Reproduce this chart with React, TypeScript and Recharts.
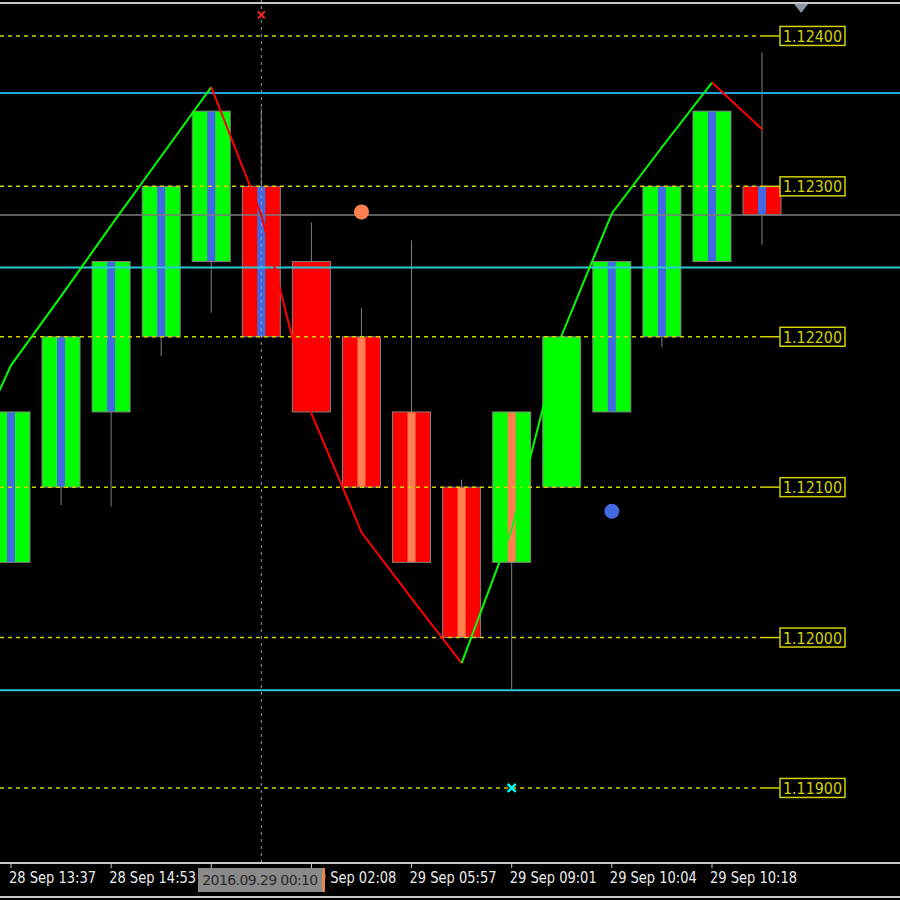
import {
  ComposedChart,
  Bar,
  Line,
  XAxis,
  YAxis,
  ReferenceLine,
  ReferenceDot,
} from "recharts";

// renko bricks, one per slot 0..15
const opens = [1.1205, 1.121, 1.1215, 1.122, 1.1225, 1.123, 1.1225, 1.122, 1.1215, 1.121, 1.1205, 1.121, 1.1215, 1.122, 1.1225, 1.123];
const closes = [1.1215, 1.122, 1.1225, 1.123, 1.1235, 1.122, 1.1215, 1.121, 1.1205, 1.12, 1.1215, 1.122, 1.1225, 1.123, 1.1235, 1.12281];
const highs = [1.1215, 1.122, 1.1225, 1.123, 1.1235, 1.12352, 1.12276, 1.12219, 1.12264, 1.12105, 1.1215, 1.122, 1.1225, 1.123, 1.1235, 1.12389];
const lows = [1.1205, 1.12088, 1.12087, 1.12187, 1.12216, 1.122, 1.1215, 1.121, 1.1205, 1.12, 1.11965, 1.121, 1.1215, 1.12193, 1.1225, 1.12261];
const stripes = ["blue", "blue", "blue", "blue", "blue", "blue", "", "salmon", "salmon", "salmon", "salmon", "", "blue", "blue", "blue", "blue"];

// zigzag legs, slots -1..15
const slots = [-1, 0, 1, 2, 3, 4, 5, 6, 7, 8, 9, 10, 11, 12, 13, 14, 15];
const upLeg1 = [1.12108, 1.12181, 1.12227, 1.12274, 1.1232, 1.12366, null, null, null, null, null, null, null, null, null, null, null];
const downLeg1 = [null, null, null, null, null, 1.12366, 1.12281, 1.12149, 1.1207, 1.12026, 1.11983, null, null, null, null, null, null];
const upLeg2 = [null, null, null, null, null, null, null, null, null, null, 1.11983, 1.12072, 1.12201, 1.12282, 1.12326, 1.12369, null];
const downLeg2 = [null, null, null, null, null, null, null, null, null, null, null, null, null, null, null, 1.12369, 1.12338];

const levels = [1.124, 1.123, 1.122, 1.121, 1.12, 1.119];
const cyanLines = [1.12362, 1.12246, 1.11965];
const bidPrice = 1.12281;

const tickSlots = [0, 2, 4, 6, 8, 10, 12, 14];
const tickLabels = ["28 Sep 13:37", "28 Sep 14:53", "", "29 Sep 02:08", "29 Sep 05:57", "29 Sep 09:01", "29 Sep 10:04", "29 Sep 10:18"];
const crossSlot = 5;
const crossLabel = "2016.09.29 00:10";

const rows = slots.map((s, k) => {
  const row: any = {
    i: s,
    up1: upLeg1[k],
    down1: downLeg1[k],
    up2: upLeg2[k],
    down2: downLeg2[k],
  };
  if (s >= 0) {
    row.open = opens[s];
    row.close = closes[s];
    row.stripe = stripes[s];
    row.range = [lows[s], highs[s]];
  }
  return row;
});

const GREEN = "#00ff00";
const RED = "#ff0000";
const YELLOW = "#d2d200";

const Candle = (props: any) => {
  const { x, y, width, height, payload } = props;
  if (payload.open == null) return null;
  const [lo, hi] = payload.range;
  const top = Math.min(y, y + height);
  const ppu = Math.abs(height) / (hi - lo);
  const yOf = (v: number) => top + (hi - v) * ppu;
  const cx = x + width / 2;
  const bTop = yOf(Math.max(payload.open, payload.close));
  const bBot = yOf(Math.min(payload.open, payload.close));
  const up = payload.close > payload.open;
  const stripeColor = payload.stripe === "blue" ? "#4169e1" : payload.stripe === "salmon" ? "#ff7f50" : null;
  return (
    <g>
      <line x1={cx} x2={cx} y1={top} y2={top + Math.abs(height)} stroke="#808080" strokeWidth={1} />
      <rect x={x} y={bTop} width={width} height={bBot - bTop} fill={up ? GREEN : RED} stroke="#808080" strokeWidth={1} />
      {stripeColor && <rect x={cx - 4} y={bTop + 0.5} width={8} height={bBot - bTop - 1} fill={stripeColor} />}
    </g>
  );
};

const LevelShape = (props: any) => {
  const { x1, y1, x2, value } = props;
  const boxL = x2 - 120;
  const text = value.toFixed(5);
  return (
    <g>
      <line x1={x1} x2={boxL - 20} y1={y1} y2={y1} stroke={YELLOW} strokeWidth={1.5} strokeDasharray="4 4" />
      <line x1={boxL - 20} x2={boxL} y1={y1} y2={y1} stroke={YELLOW} strokeWidth={1.5} />
      <rect x={boxL} y={y1 - 9.5} width={65} height={19} fill="#000" stroke={YELLOW} strokeWidth={1.5} />
      <text x={boxL + 3} y={y1 + 6} fill={YELLOW} fontSize={16} fontFamily="DejaVu Sans" textLength={59} lengthAdjust="spacingAndGlyphs">
        {text}
      </text>
    </g>
  );
};

const TimeTick = (props: any) => {
  const { x, y, payload } = props;
  const label = tickLabels[tickSlots.indexOf(payload.value)] ?? "";
  if (!label) return null;
  return (
    <text x={x - 2} y={y + 13} fill="#ececec" fontSize={15.5} fontFamily="DejaVu Sans" textLength={label.length * 7.25} lengthAdjust="spacingAndGlyphs">
      {label}
    </text>
  );
};

const Cross = (color: string, w: number, r: number) => (p: any) => (
  <g stroke={color} strokeWidth={w}>
    <line x1={p.cx - r} y1={p.cy - r} x2={p.cx + r} y2={p.cy + r} />
    <line x1={p.cx - r} y1={p.cy + r} x2={p.cx + r} y2={p.cy - r} />
  </g>
);

const Dot = (color: string) => (p: any) => <circle cx={p.cx} cy={p.cy} r={7.5} fill={color} />;

const ShiftMark = (p: any) => (
  <polygon points={`${p.cx - 7},${p.cy - 4} ${p.cx + 7},${p.cy - 4} ${p.cx},${p.cy + 5}`} fill="#8a96a8" />
);

export default function App() {
  return (
    <div style={{ position: "relative", width: 900, height: 900, background: "#000", overflow: "hidden" }}>
      <style>{"body{margin:0;background:#000}"}</style>
      <ComposedChart width={900} height={900} data={rows} margin={{ top: 0, right: 0, bottom: 0, left: 0 }}>
        <XAxis
          dataKey="i"
          type="number"
          domain={[-0.2197, 17.755]}
          allowDataOverflow
          ticks={tickSlots}
          interval={0}
          height={37}
          tickSize={5}
          axisLine={{ stroke: "#c8c8c8", strokeWidth: 2 }}
          tickLine={{ stroke: "#c8c8c8" }}
          tick={<TimeTick />}
        />
        <YAxis hide type="number" domain={[1.118501, 1.124239]} allowDataOverflow />

        {levels.map((v) => (
          <ReferenceLine key={v} y={v} stroke={YELLOW} shape={(p: any) => <LevelShape {...p} value={v} />} />
        ))}
        <ReferenceLine y={bidPrice} stroke="#7a7a7a" strokeWidth={1.5} />
        <ReferenceLine x={crossSlot} stroke="#9a9a9a" strokeDasharray="3 4" />

        <Bar dataKey="range" barSize={38} shape={<Candle />} isAnimationActive={false} />

        {cyanLines.map((v, k) => (
          <ReferenceLine key={v} y={v} stroke={k === 0 ? "#22a4d4" : "#2cc8d4"} strokeWidth={2} />
        ))}

        <Line dataKey="up1" stroke={GREEN} strokeWidth={2} dot={false} activeDot={false} isAnimationActive={false} />
        <Line dataKey="down1" stroke={RED} strokeWidth={2} dot={false} activeDot={false} isAnimationActive={false} />
        <Line dataKey="up2" stroke={GREEN} strokeWidth={2} dot={false} activeDot={false} isAnimationActive={false} />
        <Line dataKey="down2" stroke={RED} strokeWidth={2} dot={false} activeDot={false} isAnimationActive={false} />

        <ReferenceDot x={7} y={1.12283} r={7} shape={Dot("#ff7f50")} />
        <ReferenceDot x={12} y={1.12084} r={7} shape={Dot("#4169e1")} />
        <ReferenceDot x={10} y={1.119} r={5} shape={Cross("#00ffff", 2.5, 4)} />
        <ReferenceDot x={crossSlot} y={1.12414} r={5} shape={Cross("#ff2020", 2, 3.5)} />
        <ReferenceDot x={15.78} y={1.124186} r={5} shape={ShiftMark} />
      </ComposedChart>
      <div style={{ position: "absolute", left: 0, top: 2, width: 900, height: 2, background: "#c8c8c8" }} />
      <div style={{ position: "absolute", left: 0, top: 896, width: 900, height: 2, background: "#c8c8c8" }} />
      <div
        style={{
          position: "absolute",
          left: 198,
          top: 868,
          width: 124,
          height: 24,
          background: "#8a8a8a",
          borderRight: "3px solid #e08a50",
          color: "#2a2a2a",
          fontFamily: "DejaVu Sans",
          fontSize: 14,
          lineHeight: "24px",
          textAlign: "center",
          letterSpacing: -0.6,
        }}
      >
        {crossLabel}
      </div>
    </div>
  );
}
